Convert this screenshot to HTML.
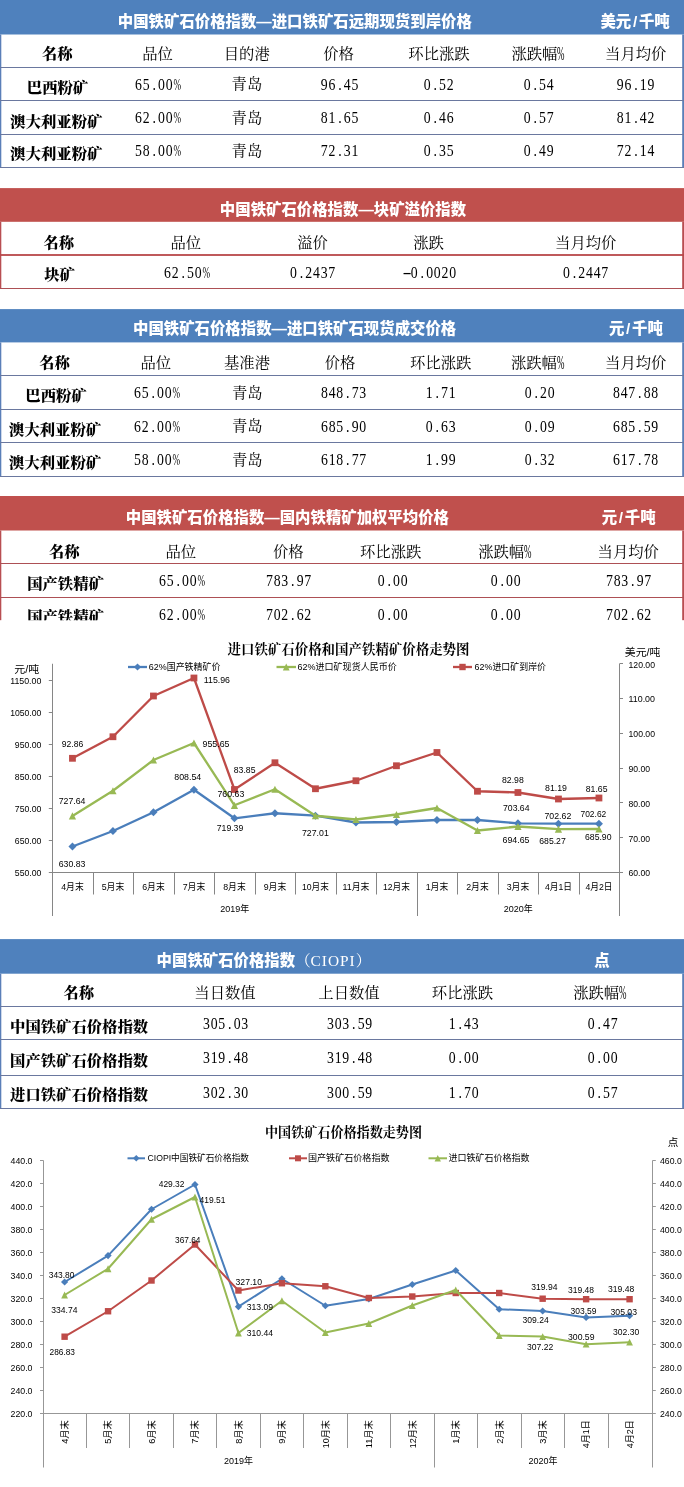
<!DOCTYPE html>
<html lang="zh-CN">
<head>
<meta charset="utf-8">
<title>中国铁矿石价格指数</title>
<style>
html,body{margin:0;padding:0;background:#fff;}
#page{position:relative;width:684px;height:1487px;overflow:hidden;background:#fff;}
.r{position:absolute;}
.t{position:absolute;width:600px;height:30px;line-height:30px;text-align:center;white-space:nowrap;color:#000;font-size:15.33px;}
.k{font-family:"Liberation Serif","Noto Serif CJK SC",serif;font-weight:400;}
.kb{font-family:"Liberation Serif","Noto Serif CJK SC",serif;font-weight:900;}
.h{font-family:"Liberation Sans","Noto Sans CJK SC",sans-serif;font-weight:900;color:#fff;font-size:15.4px;}
.hn{font-family:"Liberation Serif","Noto Serif CJK SC",serif;font-weight:400;color:#fff;}
.p{display:inline-block;width:.5em;text-align:center;}
.pc{display:inline-block;width:.5em;transform:scaleX(.6);transform-origin:0 50%;}
svg{position:absolute;left:0;top:0;}
svg text{font-family:"Liberation Sans","Noto Sans CJK SC",sans-serif;fill:#000;}
svg text.ti{font-family:"Liberation Serif","Noto Serif CJK SC",serif;font-weight:700;}
.n{font-size:16px;letter-spacing:.92px;transform:scaleX(.86);margin-top:.7px;margin-left:1px;}
.n .p{width:8.92px;letter-spacing:0;}
.n .pc{width:8.92px;letter-spacing:0;transform:scaleX(.66);}
.sl{display:inline-block;width:7.7px;text-align:center;}
.ci{letter-spacing:1.0px;}
.pc2{display:inline-block;width:7.7px;font-size:19px;line-height:1;transform:scaleX(.47);transform-origin:0 50%;vertical-align:-1px;}
.n .mn{transform:scaleX(2);}

</style>
</head>
<body>
<div id="page">
<svg width="684" height="1487" viewBox="0 0 684 1487">
<rect x="0.00" y="0.00" width="684.00" height="34.50" fill="#4f81bd"/>
<rect x="0.00" y="34.50" width="1.30" height="133.10" fill="#5a7fb8"/>
<rect x="682.20" y="34.50" width="1.80" height="133.10" fill="#5a7fb8"/>
<rect x="0.00" y="67.00" width="684.00" height="1.00" fill="#6a789f"/>
<rect x="0.00" y="100.00" width="684.00" height="1.00" fill="#6a789f"/>
<rect x="0.00" y="134.00" width="684.00" height="1.00" fill="#6a789f"/>
<rect x="0.00" y="167.00" width="684.00" height="1.00" fill="#6a789f"/>
<rect x="0.00" y="188.10" width="684.00" height="33.70" fill="#c0504d"/>
<rect x="0.00" y="221.80" width="1.30" height="66.60" fill="#b84e52"/>
<rect x="682.20" y="221.80" width="1.80" height="66.60" fill="#b84e52"/>
<rect x="0.00" y="254.10" width="684.00" height="1.80" fill="#b8474a"/>
<rect x="0.00" y="288.00" width="684.00" height="1.00" fill="#ad5055"/>
<rect x="0.00" y="309.10" width="684.00" height="33.30" fill="#4f81bd"/>
<rect x="0.00" y="342.40" width="1.30" height="133.80" fill="#5a7fb8"/>
<rect x="682.20" y="342.40" width="1.80" height="133.80" fill="#5a7fb8"/>
<rect x="0.00" y="375.00" width="684.00" height="1.00" fill="#6a789f"/>
<rect x="0.00" y="409.00" width="684.00" height="1.00" fill="#6a789f"/>
<rect x="0.00" y="442.00" width="684.00" height="1.00" fill="#6a789f"/>
<rect x="0.00" y="476.00" width="684.00" height="1.00" fill="#6a789f"/>
<rect x="0.00" y="496.00" width="684.00" height="34.50" fill="#c0504d"/>
<rect x="0.00" y="530.50" width="1.30" height="90.10" fill="#b84e52"/>
<rect x="682.20" y="530.50" width="1.80" height="90.10" fill="#b84e52"/>
<rect x="0.00" y="563.00" width="684.00" height="1.00" fill="#ad5055"/>
<rect x="0.00" y="597.00" width="684.00" height="1.00" fill="#ad5055"/>
<rect x="0.00" y="939.10" width="684.00" height="34.60" fill="#4f81bd"/>
<rect x="0.00" y="973.70" width="1.30" height="134.90" fill="#5a7fb8"/>
<rect x="682.20" y="973.70" width="1.80" height="134.90" fill="#5a7fb8"/>
<rect x="0.00" y="1006.00" width="684.00" height="1.00" fill="#6a789f"/>
<rect x="0.00" y="1039.00" width="684.00" height="1.00" fill="#6a789f"/>
<rect x="0.00" y="1075.00" width="684.00" height="1.00" fill="#6a789f"/>
<rect x="0.00" y="1108.00" width="684.00" height="1.00" fill="#6a789f"/>
</svg>
<div class="t h" style="left:-5.20px;top:6.60px">中国铁矿石价格指数—进口铁矿石远期现货到岸价格</div>
<div class="t h" style="left:335.10px;top:6.60px">美元<span class="sl">/</span>千吨</div>
<div class="t kb" style="left:-242.75px;top:39.40px">名称</div>
<div class="t k" style="left:-142.50px;top:39.40px">品位</div>
<div class="t k" style="left:-53.25px;top:39.40px">目的港</div>
<div class="t k" style="left:38.50px;top:39.40px">价格</div>
<div class="t k" style="left:139.00px;top:39.40px">环比涨跌</div>
<div class="t k" style="left:238.25px;top:39.40px">涨跌幅<span class="pc2">%</span></div>
<div class="t k" style="left:335.75px;top:39.40px">当月均价</div>
<div class="t kb" style="left:-242.50px;top:73.00px">巴西粉矿</div>
<div class="t k n" style="left:-143.00px;top:69.20px">65<span class="p">.</span>00<span class="pc">%</span></div>
<div class="t k" style="left:-53.10px;top:69.20px">青岛</div>
<div class="t k n" style="left:39.00px;top:69.20px">96<span class="p">.</span>45</div>
<div class="t k n" style="left:138.25px;top:69.20px">0<span class="p">.</span>52</div>
<div class="t k n" style="left:238.25px;top:69.20px">0<span class="p">.</span>54</div>
<div class="t k n" style="left:335.00px;top:69.20px">96<span class="p">.</span>19</div>
<div class="t kb" style="left:-243.70px;top:107.00px">澳大利亚粉矿</div>
<div class="t k n" style="left:-143.00px;top:102.50px">62<span class="p">.</span>00<span class="pc">%</span></div>
<div class="t k" style="left:-53.10px;top:102.50px">青岛</div>
<div class="t k n" style="left:39.00px;top:102.50px">81<span class="p">.</span>65</div>
<div class="t k n" style="left:138.25px;top:102.50px">0<span class="p">.</span>46</div>
<div class="t k n" style="left:238.25px;top:102.50px">0<span class="p">.</span>57</div>
<div class="t k n" style="left:335.00px;top:102.50px">81<span class="p">.</span>42</div>
<div class="t kb" style="left:-243.70px;top:139.00px">澳大利亚粉矿</div>
<div class="t k n" style="left:-143.00px;top:135.80px">58<span class="p">.</span>00<span class="pc">%</span></div>
<div class="t k" style="left:-53.10px;top:135.80px">青岛</div>
<div class="t k n" style="left:39.00px;top:135.80px">72<span class="p">.</span>31</div>
<div class="t k n" style="left:138.25px;top:135.80px">0<span class="p">.</span>35</div>
<div class="t k n" style="left:238.25px;top:135.80px">0<span class="p">.</span>49</div>
<div class="t k n" style="left:335.00px;top:135.80px">72<span class="p">.</span>14</div>
<div class="t h" style="left:43.00px;top:195.00px">中国铁矿石价格指数—块矿溢价指数</div>
<div class="t kb" style="left:-241.25px;top:227.50px">名称</div>
<div class="t k" style="left:-114.25px;top:227.50px">品位</div>
<div class="t k" style="left:12.50px;top:227.50px">溢价</div>
<div class="t k" style="left:128.50px;top:227.50px">涨跌</div>
<div class="t k" style="left:285.75px;top:227.50px">当月均价</div>
<div class="t kb" style="left:-240.50px;top:260.00px">块矿</div>
<div class="t k n" style="left:-113.75px;top:257.50px">62<span class="p">.</span>50<span class="pc">%</span></div>
<div class="t k n" style="left:12.00px;top:257.50px">0<span class="p">.</span>2437</div>
<div class="t k n" style="left:129.00px;top:257.50px"><span class="p mn">-</span>0<span class="p">.</span>0020</div>
<div class="t k n" style="left:285.00px;top:257.50px">0<span class="p">.</span>2447</div>
<div class="t h" style="left:-5.40px;top:314.20px">中国铁矿石价格指数—进口铁矿石现货成交价格</div>
<div class="t h" style="left:335.90px;top:314.20px">元<span class="sl">/</span>千吨</div>
<div class="t kb" style="left:-245.50px;top:347.50px">名称</div>
<div class="t k" style="left:-144.25px;top:347.50px">品位</div>
<div class="t k" style="left:-53.00px;top:347.50px">基准港</div>
<div class="t k" style="left:40.00px;top:347.50px">价格</div>
<div class="t k" style="left:140.75px;top:347.50px">环比涨跌</div>
<div class="t k" style="left:237.75px;top:347.50px">涨跌幅<span class="pc2">%</span></div>
<div class="t k" style="left:335.75px;top:347.50px">当月均价</div>
<div class="t kb" style="left:-244.00px;top:381.00px">巴西粉矿</div>
<div class="t k n" style="left:-144.50px;top:377.50px">65<span class="p">.</span>00<span class="pc">%</span></div>
<div class="t k" style="left:-52.70px;top:377.50px">青岛</div>
<div class="t k n" style="left:43.00px;top:377.50px">848<span class="p">.</span>73</div>
<div class="t k n" style="left:140.00px;top:377.50px">1<span class="p">.</span>71</div>
<div class="t k n" style="left:239.00px;top:377.50px">0<span class="p">.</span>20</div>
<div class="t k n" style="left:335.00px;top:377.50px">847<span class="p">.</span>88</div>
<div class="t kb" style="left:-244.90px;top:415.00px">澳大利亚粉矿</div>
<div class="t k n" style="left:-144.50px;top:411.10px">62<span class="p">.</span>00<span class="pc">%</span></div>
<div class="t k" style="left:-52.70px;top:411.10px">青岛</div>
<div class="t k n" style="left:43.00px;top:411.10px">685<span class="p">.</span>90</div>
<div class="t k n" style="left:140.00px;top:411.10px">0<span class="p">.</span>63</div>
<div class="t k n" style="left:239.00px;top:411.10px">0<span class="p">.</span>09</div>
<div class="t k n" style="left:335.00px;top:411.10px">685<span class="p">.</span>59</div>
<div class="t kb" style="left:-244.90px;top:448.00px">澳大利亚粉矿</div>
<div class="t k n" style="left:-144.50px;top:444.70px">58<span class="p">.</span>00<span class="pc">%</span></div>
<div class="t k" style="left:-52.70px;top:444.70px">青岛</div>
<div class="t k n" style="left:43.00px;top:444.70px">618<span class="p">.</span>77</div>
<div class="t k n" style="left:140.00px;top:444.70px">1<span class="p">.</span>99</div>
<div class="t k n" style="left:239.00px;top:444.70px">0<span class="p">.</span>32</div>
<div class="t k n" style="left:335.00px;top:444.70px">617<span class="p">.</span>78</div>
<div class="t h" style="left:-12.60px;top:503.20px">中国铁矿石价格指数—国内铁精矿加权平均价格</div>
<div class="t h" style="left:328.60px;top:503.20px">元<span class="sl">/</span>千吨</div>
<div class="t kb" style="left:-235.75px;top:536.50px">名称</div>
<div class="t k" style="left:-119.25px;top:536.50px">品位</div>
<div class="t k" style="left:-11.75px;top:536.50px">价格</div>
<div class="t k" style="left:90.75px;top:536.50px">环比涨跌</div>
<div class="t k" style="left:205.00px;top:536.50px">涨跌幅<span class="pc2">%</span></div>
<div class="t k" style="left:328.25px;top:536.50px">当月均价</div>
<div class="t kb" style="left:-234.50px;top:569.00px">国产铁精矿</div>
<div class="t k n" style="left:-119.50px;top:565.00px">65<span class="p">.</span>00<span class="pc">%</span></div>
<div class="t k n" style="left:-12.50px;top:565.00px">783<span class="p">.</span>97</div>
<div class="t k n" style="left:91.50px;top:565.00px">0<span class="p">.</span>00</div>
<div class="t k n" style="left:205.00px;top:565.00px">0<span class="p">.</span>00</div>
<div class="t k n" style="left:328.00px;top:565.00px">783<span class="p">.</span>97</div>
<div class="t kb" style="left:-234.50px;top:602.00px">国产铁精矿</div>
<div class="t k n" style="left:-119.50px;top:599.00px">62<span class="p">.</span>00<span class="pc">%</span></div>
<div class="t k n" style="left:-12.50px;top:599.00px">702<span class="p">.</span>62</div>
<div class="t k n" style="left:91.50px;top:599.00px">0<span class="p">.</span>00</div>
<div class="t k n" style="left:205.00px;top:599.00px">0<span class="p">.</span>00</div>
<div class="t k n" style="left:328.00px;top:599.00px">702<span class="p">.</span>62</div>
<div class="t h" style="left:156.60px;top:945.80px;text-align:left"><span>中国铁矿石价格指数</span><span class="hn">（<span class="ci">CIOPI</span>）</span></div>
<div class="t h" style="left:302.00px;top:945.80px">点</div>
<div class="t kb" style="left:-221.25px;top:977.50px">名称</div>
<div class="t k" style="left:-75.00px;top:977.50px">当日数值</div>
<div class="t k" style="left:49.00px;top:977.50px">上日数值</div>
<div class="t k" style="left:162.50px;top:977.50px">环比涨跌</div>
<div class="t k" style="left:300.00px;top:977.50px">涨跌幅<span class="pc2">%</span></div>
<div class="t kb" style="left:-220.95px;top:1012.00px">中国铁矿石价格指数</div>
<div class="t k n" style="left:-75.00px;top:1008.00px">305<span class="p">.</span>03</div>
<div class="t k n" style="left:49.00px;top:1008.00px">303<span class="p">.</span>59</div>
<div class="t k n" style="left:163.25px;top:1008.00px">1<span class="p">.</span>43</div>
<div class="t k n" style="left:301.50px;top:1008.00px">0<span class="p">.</span>47</div>
<div class="t kb" style="left:-220.95px;top:1046.00px">国产铁矿石价格指数</div>
<div class="t k n" style="left:-75.00px;top:1042.00px">319<span class="p">.</span>48</div>
<div class="t k n" style="left:49.00px;top:1042.00px">319<span class="p">.</span>48</div>
<div class="t k n" style="left:163.25px;top:1042.00px">0<span class="p">.</span>00</div>
<div class="t k n" style="left:301.50px;top:1042.00px">0<span class="p">.</span>00</div>
<div class="t kb" style="left:-220.95px;top:1080.00px">进口铁矿石价格指数</div>
<div class="t k n" style="left:-75.00px;top:1077.00px">302<span class="p">.</span>30</div>
<div class="t k n" style="left:49.00px;top:1077.00px">300<span class="p">.</span>59</div>
<div class="t k n" style="left:163.25px;top:1077.00px">1<span class="p">.</span>70</div>
<div class="t k n" style="left:301.50px;top:1077.00px">0<span class="p">.</span>57</div>
<svg width="684" height="1487" viewBox="0 0 684 1487">
<rect x="0" y="620.3" width="684" height="318.6" fill="#fff"/>
<text x="348.50" y="654.20" font-size="13.40" text-anchor="middle" textLength="242.00" lengthAdjust="spacingAndGlyphs" class="ti">进口铁矿石价格和国产铁精矿价格走势图</text>
<text x="26.75" y="673.26" font-size="10.60" text-anchor="middle" textLength="25.00" lengthAdjust="spacingAndGlyphs">元/吨</text>
<text x="642.62" y="655.76" font-size="10.60" text-anchor="middle" textLength="35.75" lengthAdjust="spacingAndGlyphs">美元/吨</text>
<line x1="52.50" y1="663.75" x2="52.50" y2="916.00" stroke="#868686" stroke-width="1.00"/>
<line x1="619.50" y1="663.75" x2="619.50" y2="916.00" stroke="#868686" stroke-width="1.00"/>
<line x1="52.50" y1="872.50" x2="619.50" y2="872.50" stroke="#868686" stroke-width="1.00"/>
<line x1="48.80" y1="872.50" x2="52.50" y2="872.50" stroke="#868686" stroke-width="1.00"/>
<text x="28.10" y="875.94" font-size="9.70" text-anchor="middle" textLength="26.60" lengthAdjust="spacingAndGlyphs">550.00</text>
<line x1="48.80" y1="840.50" x2="52.50" y2="840.50" stroke="#868686" stroke-width="1.00"/>
<text x="28.10" y="843.94" font-size="9.70" text-anchor="middle" textLength="26.60" lengthAdjust="spacingAndGlyphs">650.00</text>
<line x1="48.80" y1="808.50" x2="52.50" y2="808.50" stroke="#868686" stroke-width="1.00"/>
<text x="28.10" y="811.94" font-size="9.70" text-anchor="middle" textLength="26.60" lengthAdjust="spacingAndGlyphs">750.00</text>
<line x1="48.80" y1="776.50" x2="52.50" y2="776.50" stroke="#868686" stroke-width="1.00"/>
<text x="28.10" y="779.94" font-size="9.70" text-anchor="middle" textLength="26.60" lengthAdjust="spacingAndGlyphs">850.00</text>
<line x1="48.80" y1="744.50" x2="52.50" y2="744.50" stroke="#868686" stroke-width="1.00"/>
<text x="28.10" y="747.94" font-size="9.70" text-anchor="middle" textLength="26.60" lengthAdjust="spacingAndGlyphs">950.00</text>
<line x1="48.80" y1="712.50" x2="52.50" y2="712.50" stroke="#868686" stroke-width="1.00"/>
<text x="25.77" y="715.94" font-size="9.70" text-anchor="middle" textLength="31.25" lengthAdjust="spacingAndGlyphs">1050.00</text>
<line x1="48.80" y1="680.50" x2="52.50" y2="680.50" stroke="#868686" stroke-width="1.00"/>
<text x="25.77" y="683.94" font-size="9.70" text-anchor="middle" textLength="31.25" lengthAdjust="spacingAndGlyphs">1150.00</text>
<line x1="619.50" y1="872.50" x2="623.00" y2="872.50" stroke="#868686" stroke-width="1.00"/>
<text x="639.30" y="876.44" font-size="9.70" text-anchor="middle" textLength="21.60" lengthAdjust="spacingAndGlyphs">60.00</text>
<line x1="619.50" y1="837.50" x2="623.00" y2="837.50" stroke="#868686" stroke-width="1.00"/>
<text x="639.30" y="841.65" font-size="9.70" text-anchor="middle" textLength="21.60" lengthAdjust="spacingAndGlyphs">70.00</text>
<line x1="619.50" y1="802.50" x2="623.00" y2="802.50" stroke="#868686" stroke-width="1.00"/>
<text x="639.30" y="806.86" font-size="9.70" text-anchor="middle" textLength="21.60" lengthAdjust="spacingAndGlyphs">80.00</text>
<line x1="619.50" y1="768.50" x2="623.00" y2="768.50" stroke="#868686" stroke-width="1.00"/>
<text x="639.30" y="772.07" font-size="9.70" text-anchor="middle" textLength="21.60" lengthAdjust="spacingAndGlyphs">90.00</text>
<line x1="619.50" y1="733.50" x2="623.00" y2="733.50" stroke="#868686" stroke-width="1.00"/>
<text x="641.75" y="737.28" font-size="9.70" text-anchor="middle" textLength="26.50" lengthAdjust="spacingAndGlyphs">100.00</text>
<line x1="619.50" y1="698.50" x2="623.00" y2="698.50" stroke="#868686" stroke-width="1.00"/>
<text x="641.75" y="702.49" font-size="9.70" text-anchor="middle" textLength="26.50" lengthAdjust="spacingAndGlyphs">110.00</text>
<line x1="619.50" y1="663.50" x2="623.00" y2="663.50" stroke="#868686" stroke-width="1.00"/>
<text x="641.75" y="667.70" font-size="9.70" text-anchor="middle" textLength="26.50" lengthAdjust="spacingAndGlyphs">120.00</text>
<line x1="93.50" y1="872.50" x2="93.50" y2="894.50" stroke="#868686" stroke-width="1.00"/>
<line x1="133.50" y1="872.50" x2="133.50" y2="894.50" stroke="#868686" stroke-width="1.00"/>
<line x1="174.50" y1="872.50" x2="174.50" y2="894.50" stroke="#868686" stroke-width="1.00"/>
<line x1="214.50" y1="872.50" x2="214.50" y2="894.50" stroke="#868686" stroke-width="1.00"/>
<line x1="255.50" y1="872.50" x2="255.50" y2="894.50" stroke="#868686" stroke-width="1.00"/>
<line x1="295.50" y1="872.50" x2="295.50" y2="894.50" stroke="#868686" stroke-width="1.00"/>
<line x1="336.50" y1="872.50" x2="336.50" y2="894.50" stroke="#868686" stroke-width="1.00"/>
<line x1="376.50" y1="872.50" x2="376.50" y2="894.50" stroke="#868686" stroke-width="1.00"/>
<line x1="417.50" y1="872.50" x2="417.50" y2="916.00" stroke="#868686" stroke-width="1.00"/>
<line x1="457.50" y1="872.50" x2="457.50" y2="894.50" stroke="#868686" stroke-width="1.00"/>
<line x1="498.50" y1="872.50" x2="498.50" y2="894.50" stroke="#868686" stroke-width="1.00"/>
<line x1="538.50" y1="872.50" x2="538.50" y2="894.50" stroke="#868686" stroke-width="1.00"/>
<line x1="579.50" y1="872.50" x2="579.50" y2="894.50" stroke="#868686" stroke-width="1.00"/>
<text x="72.45" y="890.00" font-size="9.30" text-anchor="middle" textLength="22.50" lengthAdjust="spacingAndGlyphs">4月末</text>
<text x="112.95" y="890.00" font-size="9.30" text-anchor="middle" textLength="22.50" lengthAdjust="spacingAndGlyphs">5月末</text>
<text x="153.45" y="890.00" font-size="9.30" text-anchor="middle" textLength="22.50" lengthAdjust="spacingAndGlyphs">6月末</text>
<text x="193.95" y="890.00" font-size="9.30" text-anchor="middle" textLength="22.50" lengthAdjust="spacingAndGlyphs">7月末</text>
<text x="234.45" y="890.00" font-size="9.30" text-anchor="middle" textLength="22.50" lengthAdjust="spacingAndGlyphs">8月末</text>
<text x="274.95" y="890.00" font-size="9.30" text-anchor="middle" textLength="22.50" lengthAdjust="spacingAndGlyphs">9月末</text>
<text x="315.45" y="890.00" font-size="9.30" text-anchor="middle" textLength="27.00" lengthAdjust="spacingAndGlyphs">10月末</text>
<text x="355.95" y="890.00" font-size="9.30" text-anchor="middle" textLength="27.00" lengthAdjust="spacingAndGlyphs">11月末</text>
<text x="396.45" y="890.00" font-size="9.30" text-anchor="middle" textLength="27.00" lengthAdjust="spacingAndGlyphs">12月末</text>
<text x="436.95" y="890.00" font-size="9.30" text-anchor="middle" textLength="22.50" lengthAdjust="spacingAndGlyphs">1月末</text>
<text x="477.45" y="890.00" font-size="9.30" text-anchor="middle" textLength="22.50" lengthAdjust="spacingAndGlyphs">2月末</text>
<text x="517.95" y="890.00" font-size="9.30" text-anchor="middle" textLength="22.50" lengthAdjust="spacingAndGlyphs">3月末</text>
<text x="558.45" y="890.00" font-size="9.30" text-anchor="middle" textLength="27.00" lengthAdjust="spacingAndGlyphs">4月1日</text>
<text x="598.95" y="890.00" font-size="9.30" text-anchor="middle" textLength="27.00" lengthAdjust="spacingAndGlyphs">4月2日</text>
<text x="234.75" y="912.00" font-size="9.30" text-anchor="middle" textLength="29.00" lengthAdjust="spacingAndGlyphs">2019年</text>
<text x="518.25" y="912.00" font-size="9.30" text-anchor="middle" textLength="29.00" lengthAdjust="spacingAndGlyphs">2020年</text>
<polyline points="72.45,846.50 112.95,831.00 153.45,812.30 193.95,789.80 234.45,818.30 274.95,813.25 315.45,815.70 355.95,822.50 396.45,822.00 436.95,820.00 477.45,820.00 517.95,823.30 558.45,823.70 598.95,823.70" fill="none" stroke="#4a7ebb" stroke-width="2.30" stroke-linejoin="round" stroke-linecap="round"/>
<path d="M72.45 842.50L76.45 846.50L72.45 850.50L68.45 846.50Z" fill="#4a7ebb"/>
<path d="M112.95 827.00L116.95 831.00L112.95 835.00L108.95 831.00Z" fill="#4a7ebb"/>
<path d="M153.45 808.30L157.45 812.30L153.45 816.30L149.45 812.30Z" fill="#4a7ebb"/>
<path d="M193.95 785.80L197.95 789.80L193.95 793.80L189.95 789.80Z" fill="#4a7ebb"/>
<path d="M234.45 814.30L238.45 818.30L234.45 822.30L230.45 818.30Z" fill="#4a7ebb"/>
<path d="M274.95 809.25L278.95 813.25L274.95 817.25L270.95 813.25Z" fill="#4a7ebb"/>
<path d="M315.45 811.70L319.45 815.70L315.45 819.70L311.45 815.70Z" fill="#4a7ebb"/>
<path d="M355.95 818.50L359.95 822.50L355.95 826.50L351.95 822.50Z" fill="#4a7ebb"/>
<path d="M396.45 818.00L400.45 822.00L396.45 826.00L392.45 822.00Z" fill="#4a7ebb"/>
<path d="M436.95 816.00L440.95 820.00L436.95 824.00L432.95 820.00Z" fill="#4a7ebb"/>
<path d="M477.45 816.00L481.45 820.00L477.45 824.00L473.45 820.00Z" fill="#4a7ebb"/>
<path d="M517.95 819.30L521.95 823.30L517.95 827.30L513.95 823.30Z" fill="#4a7ebb"/>
<path d="M558.45 819.70L562.45 823.70L558.45 827.70L554.45 823.70Z" fill="#4a7ebb"/>
<path d="M598.95 819.70L602.95 823.70L598.95 827.70L594.95 823.70Z" fill="#4a7ebb"/>
<polyline points="72.45,815.90 112.95,790.75 153.45,760.00 193.95,743.00 234.45,805.30 274.95,789.25 315.45,815.75 355.95,819.50 396.45,814.50 436.95,808.00 477.45,830.50 517.95,826.50 558.45,829.20 598.95,829.00" fill="none" stroke="#98b954" stroke-width="2.30" stroke-linejoin="round" stroke-linecap="round"/>
<path d="M72.45 812.30L76.05 819.50L68.85 819.50Z" fill="#98b954"/>
<path d="M112.95 787.15L116.55 794.35L109.35 794.35Z" fill="#98b954"/>
<path d="M153.45 756.40L157.05 763.60L149.85 763.60Z" fill="#98b954"/>
<path d="M193.95 739.40L197.55 746.60L190.35 746.60Z" fill="#98b954"/>
<path d="M234.45 801.70L238.05 808.90L230.85 808.90Z" fill="#98b954"/>
<path d="M274.95 785.65L278.55 792.85L271.35 792.85Z" fill="#98b954"/>
<path d="M315.45 812.15L319.05 819.35L311.85 819.35Z" fill="#98b954"/>
<path d="M355.95 815.90L359.55 823.10L352.35 823.10Z" fill="#98b954"/>
<path d="M396.45 810.90L400.05 818.10L392.85 818.10Z" fill="#98b954"/>
<path d="M436.95 804.40L440.55 811.60L433.35 811.60Z" fill="#98b954"/>
<path d="M477.45 826.90L481.05 834.10L473.85 834.10Z" fill="#98b954"/>
<path d="M517.95 822.90L521.55 830.10L514.35 830.10Z" fill="#98b954"/>
<path d="M558.45 825.60L562.05 832.80L554.85 832.80Z" fill="#98b954"/>
<path d="M598.95 825.40L602.55 832.60L595.35 832.60Z" fill="#98b954"/>
<polyline points="72.45,758.30 112.95,736.75 153.45,696.00 193.95,678.00 234.45,789.50 274.95,762.75 315.45,788.75 355.95,780.75 396.45,765.75 436.95,752.50 477.45,791.25 517.95,792.50 558.45,799.00 598.95,798.00" fill="none" stroke="#be4b48" stroke-width="2.30" stroke-linejoin="round" stroke-linecap="round"/>
<rect x="69.05" y="754.90" width="6.80" height="6.80" fill="#be4b48"/>
<rect x="109.55" y="733.35" width="6.80" height="6.80" fill="#be4b48"/>
<rect x="150.05" y="692.60" width="6.80" height="6.80" fill="#be4b48"/>
<rect x="190.55" y="674.60" width="6.80" height="6.80" fill="#be4b48"/>
<rect x="231.05" y="786.10" width="6.80" height="6.80" fill="#be4b48"/>
<rect x="271.55" y="759.35" width="6.80" height="6.80" fill="#be4b48"/>
<rect x="312.05" y="785.35" width="6.80" height="6.80" fill="#be4b48"/>
<rect x="352.55" y="777.35" width="6.80" height="6.80" fill="#be4b48"/>
<rect x="393.05" y="762.35" width="6.80" height="6.80" fill="#be4b48"/>
<rect x="433.55" y="749.10" width="6.80" height="6.80" fill="#be4b48"/>
<rect x="474.05" y="787.85" width="6.80" height="6.80" fill="#be4b48"/>
<rect x="514.55" y="789.10" width="6.80" height="6.80" fill="#be4b48"/>
<rect x="555.05" y="795.60" width="6.80" height="6.80" fill="#be4b48"/>
<rect x="595.55" y="794.60" width="6.80" height="6.80" fill="#be4b48"/>
<line x1="128.00" y1="667.00" x2="147.00" y2="667.00" stroke="#4a7ebb" stroke-width="2.30"/>
<path d="M137.50 663.40L141.10 667.00L137.50 670.60L133.90 667.00Z" fill="#4a7ebb"/>
<text x="184.62" y="670.30" font-size="9.30" text-anchor="middle" textLength="71.75" lengthAdjust="spacingAndGlyphs">62%国产铁精矿价</text>
<line x1="276.50" y1="667.00" x2="296.00" y2="667.00" stroke="#98b954" stroke-width="2.30"/>
<path d="M286.25 663.60L289.65 670.40L282.85 670.40Z" fill="#98b954"/>
<text x="347.12" y="670.30" font-size="9.30" text-anchor="middle" textLength="99.25" lengthAdjust="spacingAndGlyphs">62%进口矿现货人民币价</text>
<line x1="453.00" y1="667.00" x2="472.00" y2="667.00" stroke="#be4b48" stroke-width="2.30"/>
<rect x="459.30" y="663.80" width="6.40" height="6.40" fill="#be4b48"/>
<text x="510.25" y="670.30" font-size="9.30" text-anchor="middle" textLength="71.50" lengthAdjust="spacingAndGlyphs">62%进口矿到岸价</text>
<text x="72.50" y="747.14" font-size="9.70" text-anchor="middle" textLength="21.50" lengthAdjust="spacingAndGlyphs">92.86</text>
<text x="216.88" y="682.64" font-size="9.70" text-anchor="middle" textLength="26.25" lengthAdjust="spacingAndGlyphs">115.96</text>
<text x="244.62" y="772.64" font-size="9.70" text-anchor="middle" textLength="21.75" lengthAdjust="spacingAndGlyphs">83.85</text>
<text x="512.88" y="782.64" font-size="9.70" text-anchor="middle" textLength="21.75" lengthAdjust="spacingAndGlyphs">82.98</text>
<text x="556.00" y="790.64" font-size="9.70" text-anchor="middle" textLength="22.00" lengthAdjust="spacingAndGlyphs">81.19</text>
<text x="596.62" y="792.39" font-size="9.70" text-anchor="middle" textLength="21.75" lengthAdjust="spacingAndGlyphs">81.65</text>
<text x="72.12" y="804.39" font-size="9.70" text-anchor="middle" textLength="26.75" lengthAdjust="spacingAndGlyphs">727.64</text>
<text x="216.00" y="746.89" font-size="9.70" text-anchor="middle" textLength="27.00" lengthAdjust="spacingAndGlyphs">955.65</text>
<text x="230.88" y="797.39" font-size="9.70" text-anchor="middle" textLength="26.75" lengthAdjust="spacingAndGlyphs">760.63</text>
<text x="516.00" y="843.14" font-size="9.70" text-anchor="middle" textLength="27.00" lengthAdjust="spacingAndGlyphs">694.65</text>
<text x="552.50" y="843.89" font-size="9.70" text-anchor="middle" textLength="26.50" lengthAdjust="spacingAndGlyphs">685.27</text>
<text x="598.25" y="840.14" font-size="9.70" text-anchor="middle" textLength="26.50" lengthAdjust="spacingAndGlyphs">685.90</text>
<text x="72.12" y="866.89" font-size="9.70" text-anchor="middle" textLength="26.75" lengthAdjust="spacingAndGlyphs">630.83</text>
<text x="187.75" y="780.14" font-size="9.70" text-anchor="middle" textLength="27.00" lengthAdjust="spacingAndGlyphs">808.54</text>
<text x="230.00" y="830.64" font-size="9.70" text-anchor="middle" textLength="26.50" lengthAdjust="spacingAndGlyphs">719.39</text>
<text x="315.38" y="836.14" font-size="9.70" text-anchor="middle" textLength="26.75" lengthAdjust="spacingAndGlyphs">727.01</text>
<text x="516.25" y="810.64" font-size="9.70" text-anchor="middle" textLength="26.50" lengthAdjust="spacingAndGlyphs">703.64</text>
<text x="557.88" y="818.89" font-size="9.70" text-anchor="middle" textLength="26.75" lengthAdjust="spacingAndGlyphs">702.62</text>
<text x="593.38" y="817.39" font-size="9.70" text-anchor="middle" textLength="25.75" lengthAdjust="spacingAndGlyphs">702.62</text>
<text x="343.50" y="1137.30" font-size="13.20" text-anchor="middle" textLength="157.00" lengthAdjust="spacingAndGlyphs" class="ti">中国铁矿石价格指数走势图</text>
<text x="673.00" y="1146.40" font-size="10.60" text-anchor="middle">点</text>
<line x1="43.50" y1="1160.50" x2="43.50" y2="1467.50" stroke="#979797" stroke-width="1.00"/>
<line x1="652.50" y1="1160.50" x2="652.50" y2="1467.50" stroke="#979797" stroke-width="1.00"/>
<line x1="43.50" y1="1413.50" x2="652.50" y2="1413.50" stroke="#979797" stroke-width="1.00"/>
<line x1="40.00" y1="1413.50" x2="43.50" y2="1413.50" stroke="#979797" stroke-width="1.00"/>
<text x="21.50" y="1416.62" font-size="8.80" text-anchor="middle" textLength="22.00" lengthAdjust="spacingAndGlyphs">220.0</text>
<line x1="652.50" y1="1413.50" x2="655.80" y2="1413.50" stroke="#979797" stroke-width="1.00"/>
<text x="670.88" y="1416.62" font-size="8.80" text-anchor="middle" textLength="21.75" lengthAdjust="spacingAndGlyphs">240.0</text>
<line x1="40.00" y1="1390.50" x2="43.50" y2="1390.50" stroke="#979797" stroke-width="1.00"/>
<text x="21.50" y="1393.62" font-size="8.80" text-anchor="middle" textLength="22.00" lengthAdjust="spacingAndGlyphs">240.0</text>
<line x1="652.50" y1="1390.50" x2="655.80" y2="1390.50" stroke="#979797" stroke-width="1.00"/>
<text x="670.88" y="1393.62" font-size="8.80" text-anchor="middle" textLength="21.75" lengthAdjust="spacingAndGlyphs">260.0</text>
<line x1="40.00" y1="1367.50" x2="43.50" y2="1367.50" stroke="#979797" stroke-width="1.00"/>
<text x="21.50" y="1370.62" font-size="8.80" text-anchor="middle" textLength="22.00" lengthAdjust="spacingAndGlyphs">260.0</text>
<line x1="652.50" y1="1367.50" x2="655.80" y2="1367.50" stroke="#979797" stroke-width="1.00"/>
<text x="670.88" y="1370.62" font-size="8.80" text-anchor="middle" textLength="21.75" lengthAdjust="spacingAndGlyphs">280.0</text>
<line x1="40.00" y1="1344.50" x2="43.50" y2="1344.50" stroke="#979797" stroke-width="1.00"/>
<text x="21.50" y="1347.62" font-size="8.80" text-anchor="middle" textLength="22.00" lengthAdjust="spacingAndGlyphs">280.0</text>
<line x1="652.50" y1="1344.50" x2="655.80" y2="1344.50" stroke="#979797" stroke-width="1.00"/>
<text x="670.88" y="1347.62" font-size="8.80" text-anchor="middle" textLength="21.75" lengthAdjust="spacingAndGlyphs">300.0</text>
<line x1="40.00" y1="1321.50" x2="43.50" y2="1321.50" stroke="#979797" stroke-width="1.00"/>
<text x="21.50" y="1324.62" font-size="8.80" text-anchor="middle" textLength="22.00" lengthAdjust="spacingAndGlyphs">300.0</text>
<line x1="652.50" y1="1321.50" x2="655.80" y2="1321.50" stroke="#979797" stroke-width="1.00"/>
<text x="670.88" y="1324.62" font-size="8.80" text-anchor="middle" textLength="21.75" lengthAdjust="spacingAndGlyphs">320.0</text>
<line x1="40.00" y1="1298.50" x2="43.50" y2="1298.50" stroke="#979797" stroke-width="1.00"/>
<text x="21.50" y="1301.62" font-size="8.80" text-anchor="middle" textLength="22.00" lengthAdjust="spacingAndGlyphs">320.0</text>
<line x1="652.50" y1="1298.50" x2="655.80" y2="1298.50" stroke="#979797" stroke-width="1.00"/>
<text x="670.88" y="1301.62" font-size="8.80" text-anchor="middle" textLength="21.75" lengthAdjust="spacingAndGlyphs">340.0</text>
<line x1="40.00" y1="1275.50" x2="43.50" y2="1275.50" stroke="#979797" stroke-width="1.00"/>
<text x="21.50" y="1278.62" font-size="8.80" text-anchor="middle" textLength="22.00" lengthAdjust="spacingAndGlyphs">340.0</text>
<line x1="652.50" y1="1275.50" x2="655.80" y2="1275.50" stroke="#979797" stroke-width="1.00"/>
<text x="670.88" y="1278.62" font-size="8.80" text-anchor="middle" textLength="21.75" lengthAdjust="spacingAndGlyphs">360.0</text>
<line x1="40.00" y1="1252.50" x2="43.50" y2="1252.50" stroke="#979797" stroke-width="1.00"/>
<text x="21.50" y="1255.62" font-size="8.80" text-anchor="middle" textLength="22.00" lengthAdjust="spacingAndGlyphs">360.0</text>
<line x1="652.50" y1="1252.50" x2="655.80" y2="1252.50" stroke="#979797" stroke-width="1.00"/>
<text x="670.88" y="1255.62" font-size="8.80" text-anchor="middle" textLength="21.75" lengthAdjust="spacingAndGlyphs">380.0</text>
<line x1="40.00" y1="1229.50" x2="43.50" y2="1229.50" stroke="#979797" stroke-width="1.00"/>
<text x="21.50" y="1232.62" font-size="8.80" text-anchor="middle" textLength="22.00" lengthAdjust="spacingAndGlyphs">380.0</text>
<line x1="652.50" y1="1229.50" x2="655.80" y2="1229.50" stroke="#979797" stroke-width="1.00"/>
<text x="670.88" y="1232.62" font-size="8.80" text-anchor="middle" textLength="21.75" lengthAdjust="spacingAndGlyphs">400.0</text>
<line x1="40.00" y1="1206.50" x2="43.50" y2="1206.50" stroke="#979797" stroke-width="1.00"/>
<text x="21.50" y="1209.62" font-size="8.80" text-anchor="middle" textLength="22.00" lengthAdjust="spacingAndGlyphs">400.0</text>
<line x1="652.50" y1="1206.50" x2="655.80" y2="1206.50" stroke="#979797" stroke-width="1.00"/>
<text x="670.88" y="1209.62" font-size="8.80" text-anchor="middle" textLength="21.75" lengthAdjust="spacingAndGlyphs">420.0</text>
<line x1="40.00" y1="1183.50" x2="43.50" y2="1183.50" stroke="#979797" stroke-width="1.00"/>
<text x="21.50" y="1186.62" font-size="8.80" text-anchor="middle" textLength="22.00" lengthAdjust="spacingAndGlyphs">420.0</text>
<line x1="652.50" y1="1183.50" x2="655.80" y2="1183.50" stroke="#979797" stroke-width="1.00"/>
<text x="670.88" y="1186.62" font-size="8.80" text-anchor="middle" textLength="21.75" lengthAdjust="spacingAndGlyphs">440.0</text>
<line x1="40.00" y1="1160.50" x2="43.50" y2="1160.50" stroke="#979797" stroke-width="1.00"/>
<text x="21.50" y="1163.62" font-size="8.80" text-anchor="middle" textLength="22.00" lengthAdjust="spacingAndGlyphs">440.0</text>
<line x1="652.50" y1="1160.50" x2="655.80" y2="1160.50" stroke="#979797" stroke-width="1.00"/>
<text x="670.88" y="1163.62" font-size="8.80" text-anchor="middle" textLength="21.75" lengthAdjust="spacingAndGlyphs">460.0</text>
<line x1="86.50" y1="1413.50" x2="86.50" y2="1448.00" stroke="#979797" stroke-width="1.00"/>
<line x1="129.50" y1="1413.50" x2="129.50" y2="1448.00" stroke="#979797" stroke-width="1.00"/>
<line x1="173.50" y1="1413.50" x2="173.50" y2="1448.00" stroke="#979797" stroke-width="1.00"/>
<line x1="216.50" y1="1413.50" x2="216.50" y2="1448.00" stroke="#979797" stroke-width="1.00"/>
<line x1="260.50" y1="1413.50" x2="260.50" y2="1448.00" stroke="#979797" stroke-width="1.00"/>
<line x1="303.50" y1="1413.50" x2="303.50" y2="1448.00" stroke="#979797" stroke-width="1.00"/>
<line x1="347.50" y1="1413.50" x2="347.50" y2="1448.00" stroke="#979797" stroke-width="1.00"/>
<line x1="390.50" y1="1413.50" x2="390.50" y2="1448.00" stroke="#979797" stroke-width="1.00"/>
<line x1="434.50" y1="1413.50" x2="434.50" y2="1467.50" stroke="#979797" stroke-width="1.00"/>
<line x1="477.50" y1="1413.50" x2="477.50" y2="1448.00" stroke="#979797" stroke-width="1.00"/>
<line x1="521.50" y1="1413.50" x2="521.50" y2="1448.00" stroke="#979797" stroke-width="1.00"/>
<line x1="564.50" y1="1413.50" x2="564.50" y2="1448.00" stroke="#979797" stroke-width="1.00"/>
<line x1="608.50" y1="1413.50" x2="608.50" y2="1448.00" stroke="#979797" stroke-width="1.00"/>
<text transform="translate(67.90,1420.30) rotate(-90)" x="0" y="0" font-size="9" text-anchor="end" textLength="23.50" lengthAdjust="spacingAndGlyphs">4月末</text>
<text transform="translate(111.36,1420.30) rotate(-90)" x="0" y="0" font-size="9" text-anchor="end" textLength="23.50" lengthAdjust="spacingAndGlyphs">5月末</text>
<text transform="translate(154.82,1420.30) rotate(-90)" x="0" y="0" font-size="9" text-anchor="end" textLength="23.50" lengthAdjust="spacingAndGlyphs">6月末</text>
<text transform="translate(198.28,1420.30) rotate(-90)" x="0" y="0" font-size="9" text-anchor="end" textLength="23.50" lengthAdjust="spacingAndGlyphs">7月末</text>
<text transform="translate(241.74,1420.30) rotate(-90)" x="0" y="0" font-size="9" text-anchor="end" textLength="23.50" lengthAdjust="spacingAndGlyphs">8月末</text>
<text transform="translate(285.20,1420.30) rotate(-90)" x="0" y="0" font-size="9" text-anchor="end" textLength="23.50" lengthAdjust="spacingAndGlyphs">9月末</text>
<text transform="translate(328.66,1420.30) rotate(-90)" x="0" y="0" font-size="9" text-anchor="end" textLength="28.00" lengthAdjust="spacingAndGlyphs">10月末</text>
<text transform="translate(372.12,1420.30) rotate(-90)" x="0" y="0" font-size="9" text-anchor="end" textLength="28.00" lengthAdjust="spacingAndGlyphs">11月末</text>
<text transform="translate(415.58,1420.30) rotate(-90)" x="0" y="0" font-size="9" text-anchor="end" textLength="28.00" lengthAdjust="spacingAndGlyphs">12月末</text>
<text transform="translate(459.04,1420.30) rotate(-90)" x="0" y="0" font-size="9" text-anchor="end" textLength="23.50" lengthAdjust="spacingAndGlyphs">1月末</text>
<text transform="translate(502.50,1420.30) rotate(-90)" x="0" y="0" font-size="9" text-anchor="end" textLength="23.50" lengthAdjust="spacingAndGlyphs">2月末</text>
<text transform="translate(545.96,1420.30) rotate(-90)" x="0" y="0" font-size="9" text-anchor="end" textLength="23.50" lengthAdjust="spacingAndGlyphs">3月末</text>
<text transform="translate(589.42,1420.30) rotate(-90)" x="0" y="0" font-size="9" text-anchor="end" textLength="28.00" lengthAdjust="spacingAndGlyphs">4月1日</text>
<text transform="translate(632.88,1420.30) rotate(-90)" x="0" y="0" font-size="9" text-anchor="end" textLength="28.00" lengthAdjust="spacingAndGlyphs">4月2日</text>
<text x="238.50" y="1463.89" font-size="9.00" text-anchor="middle" textLength="29.00" lengthAdjust="spacingAndGlyphs">2019年</text>
<text x="543.00" y="1463.89" font-size="9.00" text-anchor="middle" textLength="29.00" lengthAdjust="spacingAndGlyphs">2020年</text>
<polyline points="64.60,1282.00 108.06,1255.60 151.52,1209.25 194.98,1184.50 238.44,1306.70 281.90,1278.75 325.36,1305.75 368.82,1299.00 412.28,1284.50 455.74,1270.50 499.20,1309.25 542.66,1311.00 586.12,1317.40 629.58,1315.70" fill="none" stroke="#4a7ebb" stroke-width="2.00" stroke-linejoin="round" stroke-linecap="round"/>
<path d="M64.60 1278.40L68.20 1282.00L64.60 1285.60L61.00 1282.00Z" fill="#4a7ebb"/>
<path d="M108.06 1252.00L111.66 1255.60L108.06 1259.20L104.46 1255.60Z" fill="#4a7ebb"/>
<path d="M151.52 1205.65L155.12 1209.25L151.52 1212.85L147.92 1209.25Z" fill="#4a7ebb"/>
<path d="M194.98 1180.90L198.58 1184.50L194.98 1188.10L191.38 1184.50Z" fill="#4a7ebb"/>
<path d="M238.44 1303.10L242.04 1306.70L238.44 1310.30L234.84 1306.70Z" fill="#4a7ebb"/>
<path d="M281.90 1275.15L285.50 1278.75L281.90 1282.35L278.30 1278.75Z" fill="#4a7ebb"/>
<path d="M325.36 1302.15L328.96 1305.75L325.36 1309.35L321.76 1305.75Z" fill="#4a7ebb"/>
<path d="M368.82 1295.40L372.42 1299.00L368.82 1302.60L365.22 1299.00Z" fill="#4a7ebb"/>
<path d="M412.28 1280.90L415.88 1284.50L412.28 1288.10L408.68 1284.50Z" fill="#4a7ebb"/>
<path d="M455.74 1266.90L459.34 1270.50L455.74 1274.10L452.14 1270.50Z" fill="#4a7ebb"/>
<path d="M499.20 1305.65L502.80 1309.25L499.20 1312.85L495.60 1309.25Z" fill="#4a7ebb"/>
<path d="M542.66 1307.40L546.26 1311.00L542.66 1314.60L539.06 1311.00Z" fill="#4a7ebb"/>
<path d="M586.12 1313.80L589.72 1317.40L586.12 1321.00L582.52 1317.40Z" fill="#4a7ebb"/>
<path d="M629.58 1312.10L633.18 1315.70L629.58 1319.30L625.98 1315.70Z" fill="#4a7ebb"/>
<polyline points="64.60,1336.70 108.06,1311.25 151.52,1280.50 194.98,1244.50 238.44,1290.50 281.90,1283.25 325.36,1286.25 368.82,1298.00 412.28,1296.50 455.74,1293.00 499.20,1293.00 542.66,1298.70 586.12,1299.20 629.58,1299.20" fill="none" stroke="#be4b48" stroke-width="2.00" stroke-linejoin="round" stroke-linecap="round"/>
<rect x="61.40" y="1333.50" width="6.40" height="6.40" fill="#be4b48"/>
<rect x="104.86" y="1308.05" width="6.40" height="6.40" fill="#be4b48"/>
<rect x="148.32" y="1277.30" width="6.40" height="6.40" fill="#be4b48"/>
<rect x="191.78" y="1241.30" width="6.40" height="6.40" fill="#be4b48"/>
<rect x="235.24" y="1287.30" width="6.40" height="6.40" fill="#be4b48"/>
<rect x="278.70" y="1280.05" width="6.40" height="6.40" fill="#be4b48"/>
<rect x="322.16" y="1283.05" width="6.40" height="6.40" fill="#be4b48"/>
<rect x="365.62" y="1294.80" width="6.40" height="6.40" fill="#be4b48"/>
<rect x="409.08" y="1293.30" width="6.40" height="6.40" fill="#be4b48"/>
<rect x="452.54" y="1289.80" width="6.40" height="6.40" fill="#be4b48"/>
<rect x="496.00" y="1289.80" width="6.40" height="6.40" fill="#be4b48"/>
<rect x="539.46" y="1295.50" width="6.40" height="6.40" fill="#be4b48"/>
<rect x="582.92" y="1296.00" width="6.40" height="6.40" fill="#be4b48"/>
<rect x="626.38" y="1296.00" width="6.40" height="6.40" fill="#be4b48"/>
<polyline points="64.60,1295.00 108.06,1268.75 151.52,1219.25 194.98,1197.00 238.44,1333.00 281.90,1300.75 325.36,1332.50 368.82,1323.50 412.28,1305.50 455.74,1290.00 499.20,1335.50 542.66,1336.60 586.12,1344.20 629.58,1342.20" fill="none" stroke="#98b954" stroke-width="2.00" stroke-linejoin="round" stroke-linecap="round"/>
<path d="M64.60 1291.60L68.00 1298.40L61.20 1298.40Z" fill="#98b954"/>
<path d="M108.06 1265.35L111.46 1272.15L104.66 1272.15Z" fill="#98b954"/>
<path d="M151.52 1215.85L154.92 1222.65L148.12 1222.65Z" fill="#98b954"/>
<path d="M194.98 1193.60L198.38 1200.40L191.58 1200.40Z" fill="#98b954"/>
<path d="M238.44 1329.60L241.84 1336.40L235.04 1336.40Z" fill="#98b954"/>
<path d="M281.90 1297.35L285.30 1304.15L278.50 1304.15Z" fill="#98b954"/>
<path d="M325.36 1329.10L328.76 1335.90L321.96 1335.90Z" fill="#98b954"/>
<path d="M368.82 1320.10L372.22 1326.90L365.42 1326.90Z" fill="#98b954"/>
<path d="M412.28 1302.10L415.68 1308.90L408.88 1308.90Z" fill="#98b954"/>
<path d="M455.74 1286.60L459.14 1293.40L452.34 1293.40Z" fill="#98b954"/>
<path d="M499.20 1332.10L502.60 1338.90L495.80 1338.90Z" fill="#98b954"/>
<path d="M542.66 1333.20L546.06 1340.00L539.26 1340.00Z" fill="#98b954"/>
<path d="M586.12 1340.80L589.52 1347.60L582.72 1347.60Z" fill="#98b954"/>
<path d="M629.58 1338.80L632.98 1345.60L626.18 1345.60Z" fill="#98b954"/>
<line x1="127.50" y1="1158.30" x2="145.00" y2="1158.30" stroke="#4a7ebb" stroke-width="2.00"/>
<path d="M136.25 1155.00L139.55 1158.30L136.25 1161.60L132.95 1158.30Z" fill="#4a7ebb"/>
<text x="198.25" y="1161.49" font-size="9.00" text-anchor="middle" textLength="101.50" lengthAdjust="spacingAndGlyphs">CIOPI中国铁矿石价格指数</text>
<line x1="289.00" y1="1158.30" x2="307.00" y2="1158.30" stroke="#be4b48" stroke-width="2.00"/>
<rect x="295.00" y="1155.30" width="6.00" height="6.00" fill="#be4b48"/>
<text x="348.75" y="1161.49" font-size="9.00" text-anchor="middle" textLength="81.50" lengthAdjust="spacingAndGlyphs">国产铁矿石价格指数</text>
<line x1="428.50" y1="1158.30" x2="447.00" y2="1158.30" stroke="#98b954" stroke-width="2.00"/>
<path d="M437.75 1155.10L440.95 1161.50L434.55 1161.50Z" fill="#98b954"/>
<text x="489.00" y="1161.49" font-size="9.00" text-anchor="middle" textLength="81.00" lengthAdjust="spacingAndGlyphs">进口铁矿石价格指数</text>
<text x="61.62" y="1278.46" font-size="8.90" text-anchor="middle" textLength="25.75" lengthAdjust="spacingAndGlyphs">343.80</text>
<text x="64.38" y="1312.96" font-size="8.90" text-anchor="middle" textLength="26.25" lengthAdjust="spacingAndGlyphs">334.74</text>
<text x="62.25" y="1354.71" font-size="8.90" text-anchor="middle" textLength="25.50" lengthAdjust="spacingAndGlyphs">286.83</text>
<text x="171.62" y="1187.21" font-size="8.90" text-anchor="middle" textLength="25.75" lengthAdjust="spacingAndGlyphs">429.32</text>
<text x="212.50" y="1202.96" font-size="8.90" text-anchor="middle" textLength="26.00" lengthAdjust="spacingAndGlyphs">419.51</text>
<text x="187.75" y="1242.96" font-size="8.90" text-anchor="middle" textLength="25.50" lengthAdjust="spacingAndGlyphs">367.64</text>
<text x="248.75" y="1285.46" font-size="8.90" text-anchor="middle" textLength="26.50" lengthAdjust="spacingAndGlyphs">327.10</text>
<text x="259.88" y="1310.46" font-size="8.90" text-anchor="middle" textLength="26.25" lengthAdjust="spacingAndGlyphs">313.09</text>
<text x="259.88" y="1336.21" font-size="8.90" text-anchor="middle" textLength="26.25" lengthAdjust="spacingAndGlyphs">310.44</text>
<text x="544.38" y="1289.71" font-size="8.90" text-anchor="middle" textLength="26.25" lengthAdjust="spacingAndGlyphs">319.94</text>
<text x="581.00" y="1292.96" font-size="8.90" text-anchor="middle" textLength="26.00" lengthAdjust="spacingAndGlyphs">319.48</text>
<text x="621.12" y="1292.21" font-size="8.90" text-anchor="middle" textLength="26.25" lengthAdjust="spacingAndGlyphs">319.48</text>
<text x="583.50" y="1314.21" font-size="8.90" text-anchor="middle" textLength="26.00" lengthAdjust="spacingAndGlyphs">303.59</text>
<text x="623.75" y="1315.46" font-size="8.90" text-anchor="middle" textLength="26.50" lengthAdjust="spacingAndGlyphs">305.03</text>
<text x="535.62" y="1322.96" font-size="8.90" text-anchor="middle" textLength="26.25" lengthAdjust="spacingAndGlyphs">309.24</text>
<text x="581.25" y="1340.46" font-size="8.90" text-anchor="middle" textLength="26.50" lengthAdjust="spacingAndGlyphs">300.59</text>
<text x="626.12" y="1334.96" font-size="8.90" text-anchor="middle" textLength="26.25" lengthAdjust="spacingAndGlyphs">302.30</text>
<text x="540.12" y="1349.96" font-size="8.90" text-anchor="middle" textLength="26.25" lengthAdjust="spacingAndGlyphs">307.22</text>
</svg>
</div>
</body>
</html>
